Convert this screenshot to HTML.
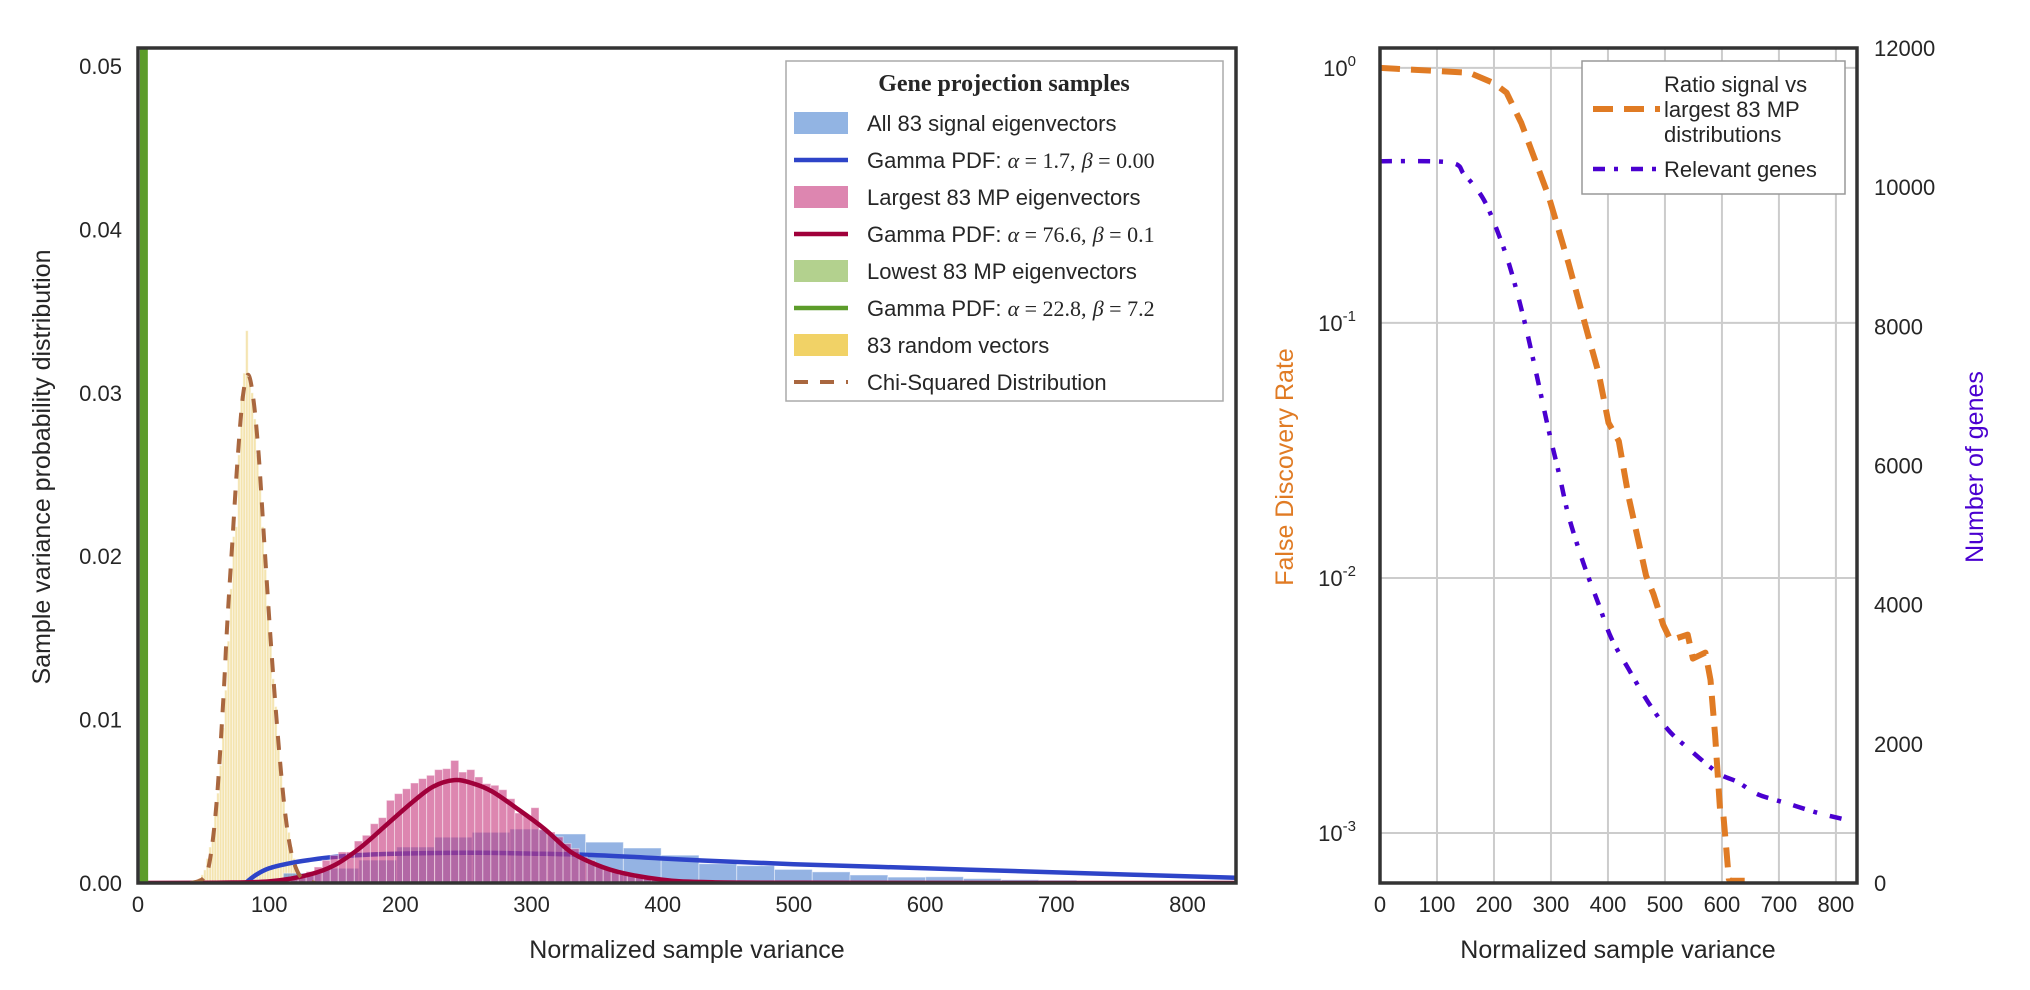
<!DOCTYPE html>
<html><head><meta charset="utf-8">
<style>
html,body{margin:0;padding:0;background:#fff;}
svg{display:block;font-family:"Liberation Sans",sans-serif;}
.tk{font-size:22px;fill:#262626;}
.ax{font-size:25px;fill:#262626;}
.lg{font-size:22px;fill:#262626;}
.m{font-family:"Liberation Serif",serif;font-style:italic;}
.mn{font-family:"Liberation Serif",serif;}
</style></head>
<body>
<svg id="chart" width="2030" height="990" viewBox="0 0 2030 990">
<defs>
<clipPath id="clipL"><rect x="138" y="48" width="1098" height="835"/></clipPath>
<clipPath id="clipR"><rect x="1380" y="48" width="477" height="835"/></clipPath>
</defs>
<rect x="0" y="0" width="2030" height="990" fill="#fff"/>
<g id="left-plot"></g>
<g id="right-plot"></g>

<g id="left-axes"></g>
<text class="ax" x="687" y="958" text-anchor="middle">Normalized sample variance</text>
<text class="ax" transform="translate(50,467) rotate(-90)" text-anchor="middle">Sample variance probability distribution</text>

<g>
<rect x="786" y="61" width="437" height="340" fill="#fff" stroke="#aaa" stroke-width="1.5"/>
<text x="1004" y="91" text-anchor="middle" style="font-family:'Liberation Serif',serif;font-weight:bold;font-size:24px;fill:#262626">Gene projection samples</text>
<g><rect x="794" y="112" width="54" height="22" fill="#92b4e3"/><text class="lg" x="867" y="131">All 83 signal eigenvectors</text></g>
<g><line x1="794" y1="160" x2="848" y2="160" stroke="#2e44c8" stroke-width="4.5"/><text class="lg" x="867" y="168">Gamma PDF: <tspan class="m">α</tspan><tspan class="mn"> = 1.7,</tspan> <tspan class="m">β</tspan><tspan class="mn"> = 0.00</tspan></text></g>
<g><rect x="794" y="186" width="54" height="22" fill="#dd86b0"/><text class="lg" x="867" y="205">Largest 83 MP eigenvectors</text></g>
<g><line x1="794" y1="234" x2="848" y2="234" stroke="#a0003a" stroke-width="4.5"/><text class="lg" x="867" y="242">Gamma PDF: <tspan class="m">α</tspan><tspan class="mn"> = 76.6,</tspan> <tspan class="m">β</tspan><tspan class="mn"> = 0.1</tspan></text></g>
<g><rect x="794" y="260" width="54" height="22" fill="#b3d18e"/><text class="lg" x="867" y="279">Lowest 83 MP eigenvectors</text></g>
<g><line x1="794" y1="308" x2="848" y2="308" stroke="#5c9c2a" stroke-width="4.5"/><text class="lg" x="867" y="316">Gamma PDF: <tspan class="m">α</tspan><tspan class="mn"> = 22.8,</tspan> <tspan class="m">β</tspan><tspan class="mn"> = 7.2</tspan></text></g>
<g><rect x="794" y="334" width="54" height="22" fill="#f1d266"/><text class="lg" x="867" y="353">83 random vectors</text></g>
<g><line x1="794" y1="382" x2="848" y2="382" stroke="#a9673f" stroke-width="4" stroke-dasharray="14 12"/><text class="lg" x="867" y="390">Chi-Squared Distribution</text></g>
</g>

<g id="right-axes"></g>
<text class="ax" x="1618" y="958" text-anchor="middle">Normalized sample variance</text>
<text class="ax" transform="translate(1293,467) rotate(-90)" text-anchor="middle" style="fill:#e07b24">False Discovery Rate</text>
<text class="ax" transform="translate(1983,467) rotate(-90)" text-anchor="middle" style="fill:#4a00d0">Number of genes</text>

<g>
<rect x="1582" y="61" width="263" height="133" fill="#fff" stroke="#999" stroke-width="1.5"/>
<line x1="1593" y1="109" x2="1660" y2="109" stroke="#e07b24" stroke-width="6" stroke-dasharray="20 11"/>
<text class="lg" x="1664" y="92"><tspan x="1664">Ratio signal vs</tspan><tspan x="1664" dy="25">largest 83 MP</tspan><tspan x="1664" dy="25">distributions</tspan></text>
<line x1="1593" y1="169" x2="1660" y2="169" stroke="#4a00d0" stroke-width="4.5" stroke-dasharray="12 9 4 13"/>
<text class="lg" x="1664" y="177">Relevant genes</text>
</g>
</svg>
<script>
// ---------- LEFT CHART DATA ----------
const randStart = 46, randWidth = 2;
const randHist = [0.0003,0.0005,0.0008,0.0015,0.0022,0.003,0.0043,0.0055,0.0072,0.0095,0.0118,0.0148,0.0180,0.0212,0.0218,0.0262,0.0298,0.0312,0.0338,0.0308,0.0300,0.0284,0.0262,0.0241,0.0218,0.0192,0.0170,0.0150,0.0125,0.0108,0.0088,0.0070,0.0055,0.0042,0.0031,0.0022,0.0015,0.0010,0.0006,0.0003];
const chiX = [40,50,55,60,65,68,72,76,80,84,88,92,96,100,104,108,112,116,120,125,135];
const chiY = [0,0.0003,0.0015,0.005,0.0112,0.0158,0.021,0.026,0.0298,0.0311,0.0296,0.0262,0.0212,0.0162,0.0117,0.0077,0.0044,0.0022,0.001,0.0003,0];
const lowStart = 2, lowWidth = 3;
const lowHist = [0.2];
const lowCurveX = [0,3,4,5,6,8];
const lowCurveY = [0,0.0,0.2,0.2,0.0,0];
const sigStart = 82, sigWidth = 28.8;
const sigHist = [0.0002,0.0006,0.0009,0.0014,0.0022,0.0028,0.0031,0.0033,0.0030,0.0025,0.00214,0.0017,0.00118,0.00106,0.00083,0.00068,0.00049,0.00036,0.00038,0.00027,0.0002,0.00017,0.0001,0.00011,0.00005,0.00005,0.00004];
const sigCurveX = [82,90,100,115,130,150,180,220,260,300,350,400,430,500,600,700,837];
const sigCurveY = [0,0.0005,0.0009,0.0012,0.0014,0.0016,0.00175,0.00183,0.00185,0.0018,0.0017,0.0015,0.00138,0.00115,0.0009,0.00065,0.00032];
const bigStart = 97.6, bigWidth = 6.12;
const bigHist = [0.0001,0.0002,0.0003,0.0004,0.0005,0.0007,0.00098,0.00139,0.00169,0.0019,0.0019,0.00257,0.00292,0.00363,0.004,0.00506,0.00547,0.00577,0.00612,0.00639,0.00659,0.00694,0.007,0.0075,0.00679,0.00694,0.00649,0.00608,0.00598,0.00571,0.00516,0.00428,0.00414,0.00461,0.00326,0.00312,0.00282,0.00241,0.0021,0.00159,0.00139,0.00102,0.00088,0.00078,0.00061,0.00053,0.00045,0.00035,0.00028,0.0002,0.00015,0.0001,0.00008,0.00005];
const bigCurveX = [0,60,100,130,150,170,190,210,225,241,255,270,290,310,330,350,370,400,430,500,837];
const bigCurveY = [0,0.00002,0.0001,0.0005,0.0011,0.0022,0.0036,0.005,0.0059,0.0063,0.0061,0.0056,0.0045,0.0033,0.0019,0.0011,0.0006,0.0002,0.00006,0.00001,0];
const leftXTicks = [0,100,200,300,400,500,600,700,800];
const leftYTicks = [0,0.01,0.02,0.03,0.04,0.05];
const leftYLabels = ["0.00","0.01","0.02","0.03","0.04","0.05"];

// ---------- RIGHT CHART DATA ----------
const fdrX = [0,157,200,222,248,296,331,366,384,401,419,436,467,480,497,510,540,549,571,580,588,597,602,608,612,614,640];
const fdrY = [1.0,0.957,0.871,0.80,0.608,0.313,0.171,0.0879,0.0631,0.0406,0.0344,0.0209,0.0102,0.00863,0.00655,0.0057,0.006,0.00483,0.0051,0.00398,0.00242,0.00121,0.00121,0.00085,0.00066,0.00065,0.00065];
const genesX = [0,122,148,179,200,227,253,275,296,314,331,358,384,406,436,471,506,541,593,628,663,715,767,811];
const genesY = [10373,10355,10180,9863,9494,8878,8087,7296,6505,5890,5274,4571,4000,3516,3077,2593,2198,1934,1582,1450,1275,1143,1011,923];
const rightXTicks = [0,100,200,300,400,500,600,700,800];
const fdrTickExp = [0,-1,-2,-3];
const genesTicks = [0,2000,4000,6000,8000,10000,12000];

const NS = "http://www.w3.org/2000/svg";
function mk(tag, attrs, parent){ const e=document.createElementNS(NS,tag); for(const k in attrs) e.setAttribute(k,attrs[k]); if(parent) parent.appendChild(e); return e; }

const L = {x0:138,x1:1236,y0:48,y1:883,xmax:837,ymax:0.0511};
function lx(v){ return L.x0 + v/L.xmax*(L.x1-L.x0); }
function ly(v){ return L.y1 - v/L.ymax*(L.y1-L.y0); }
const R = {x0:1380,x1:1857,y0:48,y1:883,xmax:837,lmin:-3.196,lmax:0.078,gmax:12000};
function rx(v){ return R.x0 + v/R.xmax*(R.x1-R.x0); }
function ryLog(v){ const l=Math.log10(Math.max(v,1e-9)); return R.y1 - (l-R.lmin)/(R.lmax-R.lmin)*(R.y1-R.y0); }
function ryG(v){ return R.y1 - v/R.gmax*(R.y1-R.y0); }

function smoothPath(pts){
  let d = "M"+pts[0][0].toFixed(1)+","+pts[0][1].toFixed(1);
  for(let i=0;i<pts.length-1;i++){
    const p0=pts[i-1]||pts[i], p1=pts[i], p2=pts[i+1], p3=pts[i+2]||p2;
    const c1=[p1[0]+(p2[0]-p0[0])/6, p1[1]+(p2[1]-p0[1])/6];
    const c2=[p2[0]-(p3[0]-p1[0])/6, p2[1]-(p3[1]-p1[1])/6];
    d += " C"+c1[0].toFixed(1)+","+c1[1].toFixed(1)+" "+c2[0].toFixed(1)+","+c2[1].toFixed(1)+" "+p2[0].toFixed(1)+","+p2[1].toFixed(1);
  }
  return d;
}

const left = document.getElementById('left-plot');
const gL = mk('g',{'clip-path':'url(#clipL)'},left);

function drawHist(start,width,vals,fill,op,name){
  const g = mk('g',{},gL);
  
  
  vals.forEach((v,i)=>{
    const a=start+i*width, b=a+width;
    const r = mk('rect',{x:lx(a),y:ly(v),width:Math.max(lx(b)-lx(a),0.5),height:ly(0)-ly(v),fill:fill,'fill-opacity':op,stroke:'#fff','stroke-opacity':0.45,'stroke-width':1},g);
    
    
  });
}
function drawCurve(xs,ys,xf,yf,parent,stroke,w,dash,name){
  const pts = xs.map((x,i)=>[xf(x),yf(ys[i])]);
  const p = mk('path',{d:smoothPath(pts),fill:'none',stroke:stroke,'stroke-width':w,'stroke-linejoin':'round'},parent);
  if(dash) p.setAttribute('stroke-dasharray',dash);
  
  
  return p;
}

drawHist(randStart,randWidth,randHist,'#ecd27a',0.6,'random-vectors-hist');
drawHist(lowStart,lowWidth,lowHist,'#8fbf55',0.7,'lowest-mp-hist');
drawHist(sigStart,sigWidth,sigHist,'#4c80d0',0.6,'signal-eigenvectors-hist');
drawCurve(sigCurveX,sigCurveY,lx,ly,gL,'#2e44c8',4.5,null,'signal-gamma-curve');
drawHist(bigStart,bigWidth,bigHist,'#c6357b',0.6,'largest-mp-hist');
drawCurve(bigCurveX,bigCurveY,lx,ly,gL,'#a0003a',4.5,null,'largest-mp-gamma-curve');
drawCurve(chiX,chiY,lx,ly,gL,'#a9673f',4,'14 12','chi-squared-curve');
(function(){
  const pts = lowCurveX.map((x,i)=>lx(x).toFixed(1)+","+ly(lowCurveY[i]).toFixed(1)).join(" ");
  const p = mk('polyline',{points:pts,fill:'none',stroke:'#5c9c2a',"stroke-width":4.5},gL);
  
  
})();

const la = document.getElementById('left-axes');
leftXTicks.forEach(t=>{
  const tx = mk('text',{x:lx(t),y:912,'text-anchor':'middle','class':'tk'},la);
  tx.textContent = t;
  
  
});
leftYTicks.forEach((t,i)=>{
  const tx = mk('text',{x:122,y:ly(t)+8,'text-anchor':'end','class':'tk'},la);
  tx.textContent = leftYLabels[i];
  
  
});
const fL = mk('rect',{x:L.x0,y:L.y0,width:L.x1-L.x0,height:L.y1-L.y0,fill:'none',stroke:'#333','stroke-width':3.5},la);



const right = document.getElementById('right-plot');
const gridG = mk('g',{},right);


rightXTicks.forEach(t=>{ mk('line',{x1:rx(t),x2:rx(t),y1:R.y0,y2:R.y1,stroke:'#cccccc','stroke-width':2},gridG); });
fdrTickExp.forEach(e=>{ mk('line',{x1:R.x0,x2:R.x1,y1:ryLog(Math.pow(10,e)),y2:ryLog(Math.pow(10,e)),stroke:'#cccccc','stroke-width':2},gridG); });
const gR = mk('g',{'clip-path':'url(#clipR)'},right);
(function(){
  const pts = fdrX.map((x,i)=>rx(x).toFixed(1)+","+ryLog(fdrY[i]).toFixed(1)).join(" ");
  const p = mk('polyline',{points:pts,fill:'none',stroke:'#e07b24','stroke-width':6,'stroke-dasharray':'20 11','stroke-linejoin':'round'},gR);
  
  
})();
drawCurve(genesX,genesY,rx,ryG,gR,'#4a00d0',4.5,'12 9 4 13','relevant-genes-line');

const ra = document.getElementById('right-axes');
rightXTicks.forEach(t=>{
  const tx = mk('text',{x:rx(t),y:912,'text-anchor':'middle','class':'tk'},ra);
  tx.textContent = t;
  
  
});
fdrTickExp.forEach(e=>{
  const y = ryLog(Math.pow(10,e));
  const tx = mk('text',{x:1356,y:y+8,'text-anchor':'end','class':'tk'},ra);
  tx.textContent = '10';
  const sup = mk('tspan',{dy:-10,'font-size':'15px'},tx);
  sup.textContent = e;
  
  
});
genesTicks.forEach(t=>{
  const tx = mk('text',{x:1874,y:ryG(t)+8,'text-anchor':'start','class':'tk'},ra);
  tx.textContent = t;
  
  
});
const fR = mk('rect',{x:R.x0,y:R.y0,width:R.x1-R.x0,height:R.y1-R.y0,fill:'none',stroke:'#333','stroke-width':3.5},ra);


</script>
</body></html>
